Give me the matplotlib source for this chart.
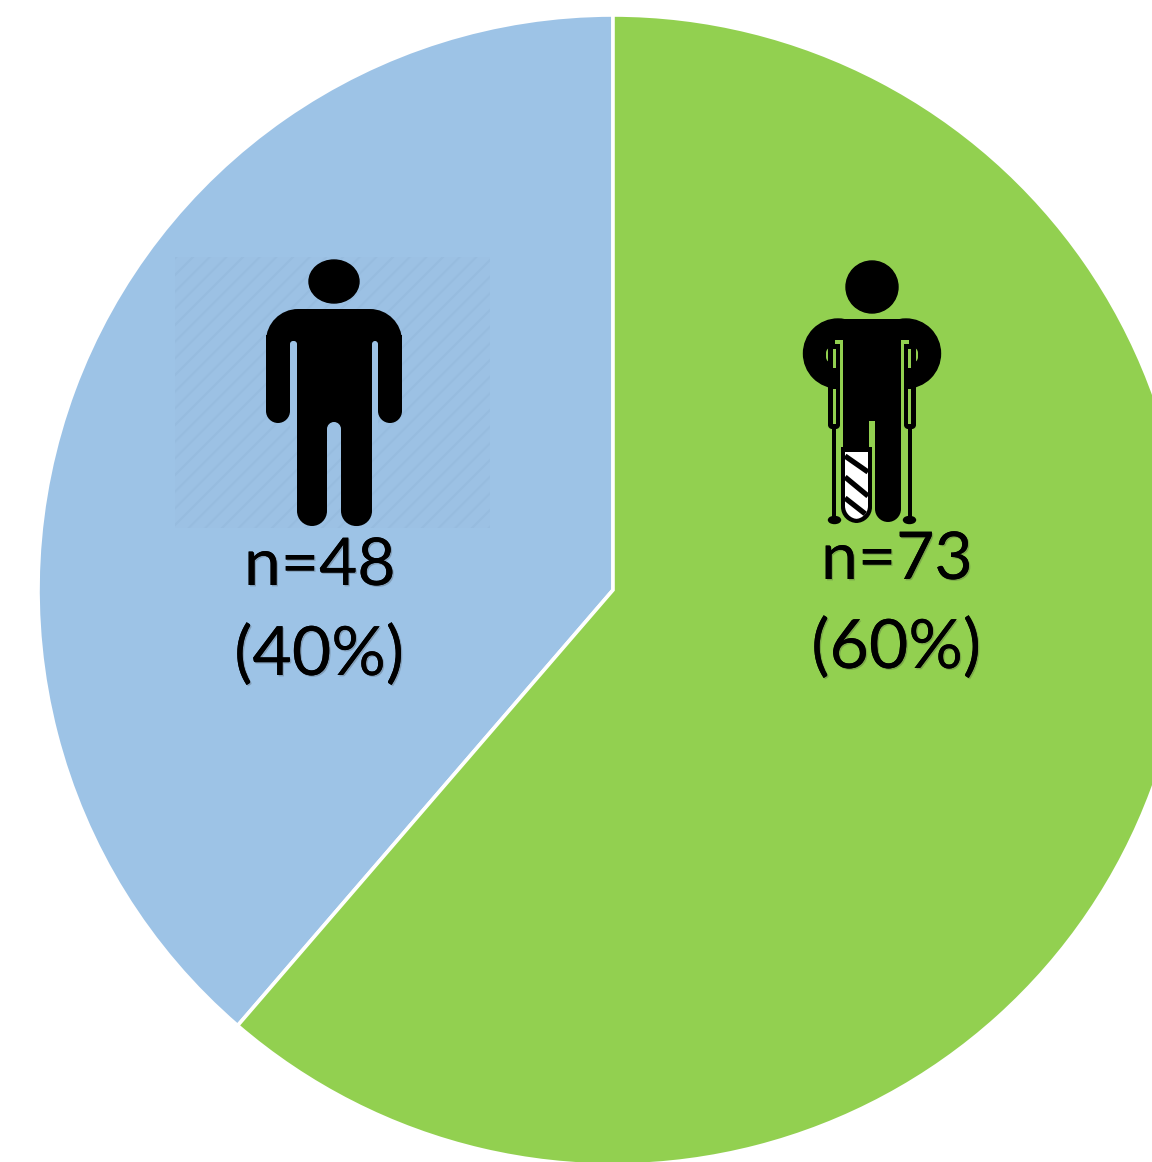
import matplotlib.pyplot as plt
import matplotlib.patheffects as pe
from matplotlib.patches import Circle, Ellipse, PathPatch, Rectangle
from matplotlib.path import Path

shares = [38.68, 61.32]
slice_colors = ['#9DC3E6', '#92D050']
labels_n = ['n=48', 'n=73']
labels_pct = ['(40%)', '(60%)']

BLUE = slice_colors[0]
GREEN = slice_colors[1]

plt.rcParams['font.family'] = ['Lato', 'DejaVu Sans']
plt.rcParams['hatch.linewidth'] = 1.4

fig = plt.figure(figsize=(11.52, 11.62), dpi=100)
ax = fig.add_axes([0, 0, 1, 1])

ax.pie(shares, colors=slice_colors, startangle=-90, counterclock=False,
       center=(613, 590), radius=575,
       wedgeprops={'edgecolor': 'white', 'linewidth': 2.6})
ax.set_xlim(0, 1152)
ax.set_ylim(1162, 0)
ax.set_aspect('equal')
ax.axis('off')


def rrect(x0, y0, x1, y1, rt=0, rb=0, color='black', z=3):
    # rounded rectangle, top and bottom corners set on their own
    k = 0.45
    verts = [(x0 + rt, y0), (x1 - rt, y0),
             (x1 - rt * k, y0), (x1, y0 + rt * k), (x1, y0 + rt),
             (x1, y1 - rb),
             (x1, y1 - rb * k), (x1 - rb * k, y1), (x1 - rb, y1),
             (x0 + rb, y1),
             (x0 + rb * k, y1), (x0, y1 - rb * k), (x0, y1 - rb),
             (x0, y0 + rt),
             (x0, y0 + rt * k), (x0 + rt * k, y0), (x0 + rt, y0),
             (x0 + rt, y0)]
    c4 = [Path.CURVE4] * 3
    codes = [Path.MOVETO, Path.LINETO] + c4 + [Path.LINETO] + c4 + [Path.LINETO] + c4 \
        + [Path.LINETO] + c4 + [Path.CLOSEPOLY]
    p = PathPatch(Path(verts, codes), facecolor=color, edgecolor='none', zorder=z)
    ax.add_patch(p)
    return p


# faint striped square behind the standing figure
PALE = '#9CC1E4'
ax.add_patch(Rectangle((175, 257), 315, 271, facecolor=PALE,
                       edgecolor='#97BCDF', hatch='//', linewidth=0, zorder=2))

# standing figure
ax.add_patch(Ellipse((334, 281.5), 50, 43, color='black', zorder=3))
rrect(266, 309, 402, 345, rt=32)
rrect(266, 335, 290, 423, rb=12)
rrect(378, 335, 402, 423, rb=12)
rrect(297, 335, 372, 432)
rrect(297, 425, 327, 526, rb=15)
rrect(341, 425, 372, 526, rb=15)
rrect(327, 422, 341, 440, rt=7, color=PALE, z=4)
rrect(290, 341, 297, 430, rt=3, color=BLUE, z=4)
rrect(372, 341, 378, 430, rt=3, color=BLUE, z=4)

# figure on crutches
ax.add_patch(Circle((872, 287), 26, color='black', zorder=3))
rrect(838, 319, 906, 388)
ax.add_patch(Circle((838, 353.5), 34.5, color='black', zorder=3))
ax.add_patch(Circle((906, 353.5), 34.5, color='black', zorder=3))
rrect(843, 319, 901, 421)
rrect(843, 421, 869, 450)
rrect(875, 421, 901, 522, rb=13)

for side in [False, True]:
    def mx(x):
        return 1744 - x if side else x

    def box(x0, y0, x1, y1, **kw):
        return rrect(min(mx(x0), mx(x1)), y0, max(mx(x0), mx(x1)), y1, **kw)

    box(840, 340, 843, 447, color=GREEN, z=4)
    box(835, 340, 843, 344, color=GREEN, z=4)
    box(826, 347, 840, 363, rt=6, rb=6, color=GREEN, z=4)
    box(828, 345, 840, 429, rt=4, rb=4, z=5)
    box(833, 349, 836, 368, color=GREEN, z=6)
    box(833, 389, 836, 424, color=GREEN, z=6)
    box(832, 426, 836, 520, z=5)
    ax.add_patch(Ellipse((mx(834.5), 520), 12, 7, color='black', zorder=5))

# cast on the left leg
rrect(841, 447, 872, 523, rb=16, z=5)
cast = rrect(845, 452, 868, 519, rb=13, color='white', z=6)
stripe_x = [845, 868]
for y0, y1 in [(456, 472), (477, 496), (498, 516)]:
    ln, = ax.plot(stripe_x, [y0, y1], color='black', lw=3.8, zorder=7,
                  solid_capstyle='butt')
    ln.set_clip_path(cast)

shadow = [pe.withSimplePatchShadow(offset=(1, -1), shadow_rgbFace='#333333', alpha=0.25),
          pe.Normal()]
ax.text(320, 585, labels_n[0], fontsize=47.5, ha='center', va='baseline', zorder=8, path_effects=shadow)
ax.text(319, 675, labels_pct[0], fontsize=49, ha='center', va='baseline', zorder=8, path_effects=shadow)
ax.text(897, 579, labels_n[1], fontsize=47.5, ha='center', va='baseline', zorder=8, path_effects=shadow)
ax.text(896, 668, labels_pct[1], fontsize=49, ha='center', va='baseline', zorder=8, path_effects=shadow)

fig.savefig('out.png', dpi=100)
